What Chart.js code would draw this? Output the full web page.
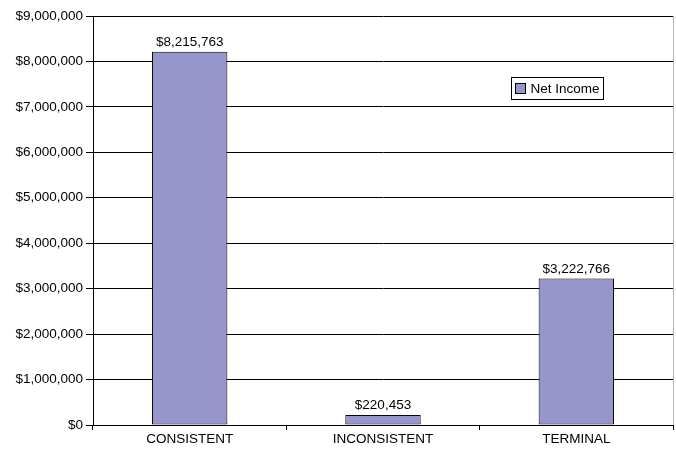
<!DOCTYPE html>
<html>
<head>
<meta charset="utf-8">
<script src="https://cdn.jsdelivr.net/npm/chart.js@4.4.1/dist/chart.umd.min.js"></script>
<style>
  html, body { margin: 0; padding: 0; background: #fff; }
  #wrap { width: 676px; height: 451px; }
</style>
</head>
<body>
<div id="wrap"><canvas id="incomeChart" width="676" height="451"></canvas></div>
<script>
const categories = ['CONSISTENT', 'INCONSISTENT', 'TERMINAL'];
const netIncome = [8215763, 220453, 3222766];
const seriesName = 'Net Income';
const yMax = 9000000;
const yStep = 1000000;

const barColor = '#9696ca';
const fontFamily = '"Liberation Sans", Arial, sans-serif';
const fontSize = 13.5;

function money(v) {
  return '$' + Math.round(v).toLocaleString('en-US');
}

// value labels above each bar, plus the boxed legend and right frame edge
const decorations = {
  id: 'decorations',
  afterDatasetsDraw(chart) {
    const ctx = chart.ctx;
    const area = chart.chartArea;
    const meta = chart.getDatasetMeta(0);

    ctx.save();
    ctx.font = fontSize + 'px ' + fontFamily;
    ctx.fillStyle = '#000';
    ctx.textAlign = 'center';
    ctx.textBaseline = 'bottom';
    meta.data.forEach(function (bar, i) {
      ctx.fillText(money(chart.data.datasets[0].data[i]), bar.x, bar.y - 3);
    });

    // right edge of the plot frame
    ctx.strokeStyle = '#b8b8b8';
    ctx.lineWidth = 1;
    ctx.beginPath();
    ctx.moveTo(Math.round(area.right) + 0.5, area.top);
    ctx.lineTo(Math.round(area.right) + 0.5, area.bottom);
    ctx.stroke();

    // legend box
    const bx = 511.5, by = 77.5, bw = 92, bh = 22;
    ctx.fillStyle = '#fff';
    ctx.fillRect(bx, by, bw, bh);
    ctx.strokeStyle = '#000';
    ctx.strokeRect(bx, by, bw, bh);
    ctx.fillStyle = barColor;
    ctx.fillRect(bx + 4, by + 6, 10, 10);
    ctx.strokeRect(bx + 4, by + 6, 10, 10);
    ctx.fillStyle = '#000';
    ctx.textAlign = 'left';
    ctx.textBaseline = 'middle';
    ctx.font = fontSize + 'px ' + fontFamily;
    ctx.fillText(seriesName, bx + 19, by + bh / 2 + 1);
    ctx.restore();
  }
};

new Chart(document.getElementById('incomeChart'), {
  type: 'bar',
  data: {
    labels: categories,
    datasets: [{
      label: seriesName,
      data: netIncome,
      backgroundColor: barColor,
      borderColor: '#000',
      borderWidth: 1,
      borderSkipped: false,
      barPercentage: 0.39,
      categoryPercentage: 1.0
    }]
  },
  options: {
    responsive: false,
    animation: false,
    layout: { padding: { top: 16, right: 3, left: 0, bottom: 0 } },
    plugins: {
      legend: { display: false },
      tooltip: { enabled: false }
    },
    scales: {
      x: {
        offset: true,
        grid: {
          offset: true,
          drawOnChartArea: false,
          color: '#000',
          tickLength: 5
        },
        border: { color: '#000' },
        ticks: {
          color: '#000',
          font: { family: fontFamily, size: fontSize },
          padding: 1,
          maxRotation: 0
        },
        afterFit: function (s) { s.height = 26; }
      },
      y: {
        min: 0,
        max: yMax,
        grid: {
          color: '#000',
          tickLength: 7
        },
        border: { color: '#000' },
        ticks: {
          stepSize: yStep,
          color: '#000',
          padding: 3,
          font: { family: fontFamily, size: fontSize },
          callback: function (value) { return money(value); }
        },
        afterFit: function (s) { s.width = 93; }
      }
    }
  },
  plugins: [decorations]
});
</script>
</body>
</html>
